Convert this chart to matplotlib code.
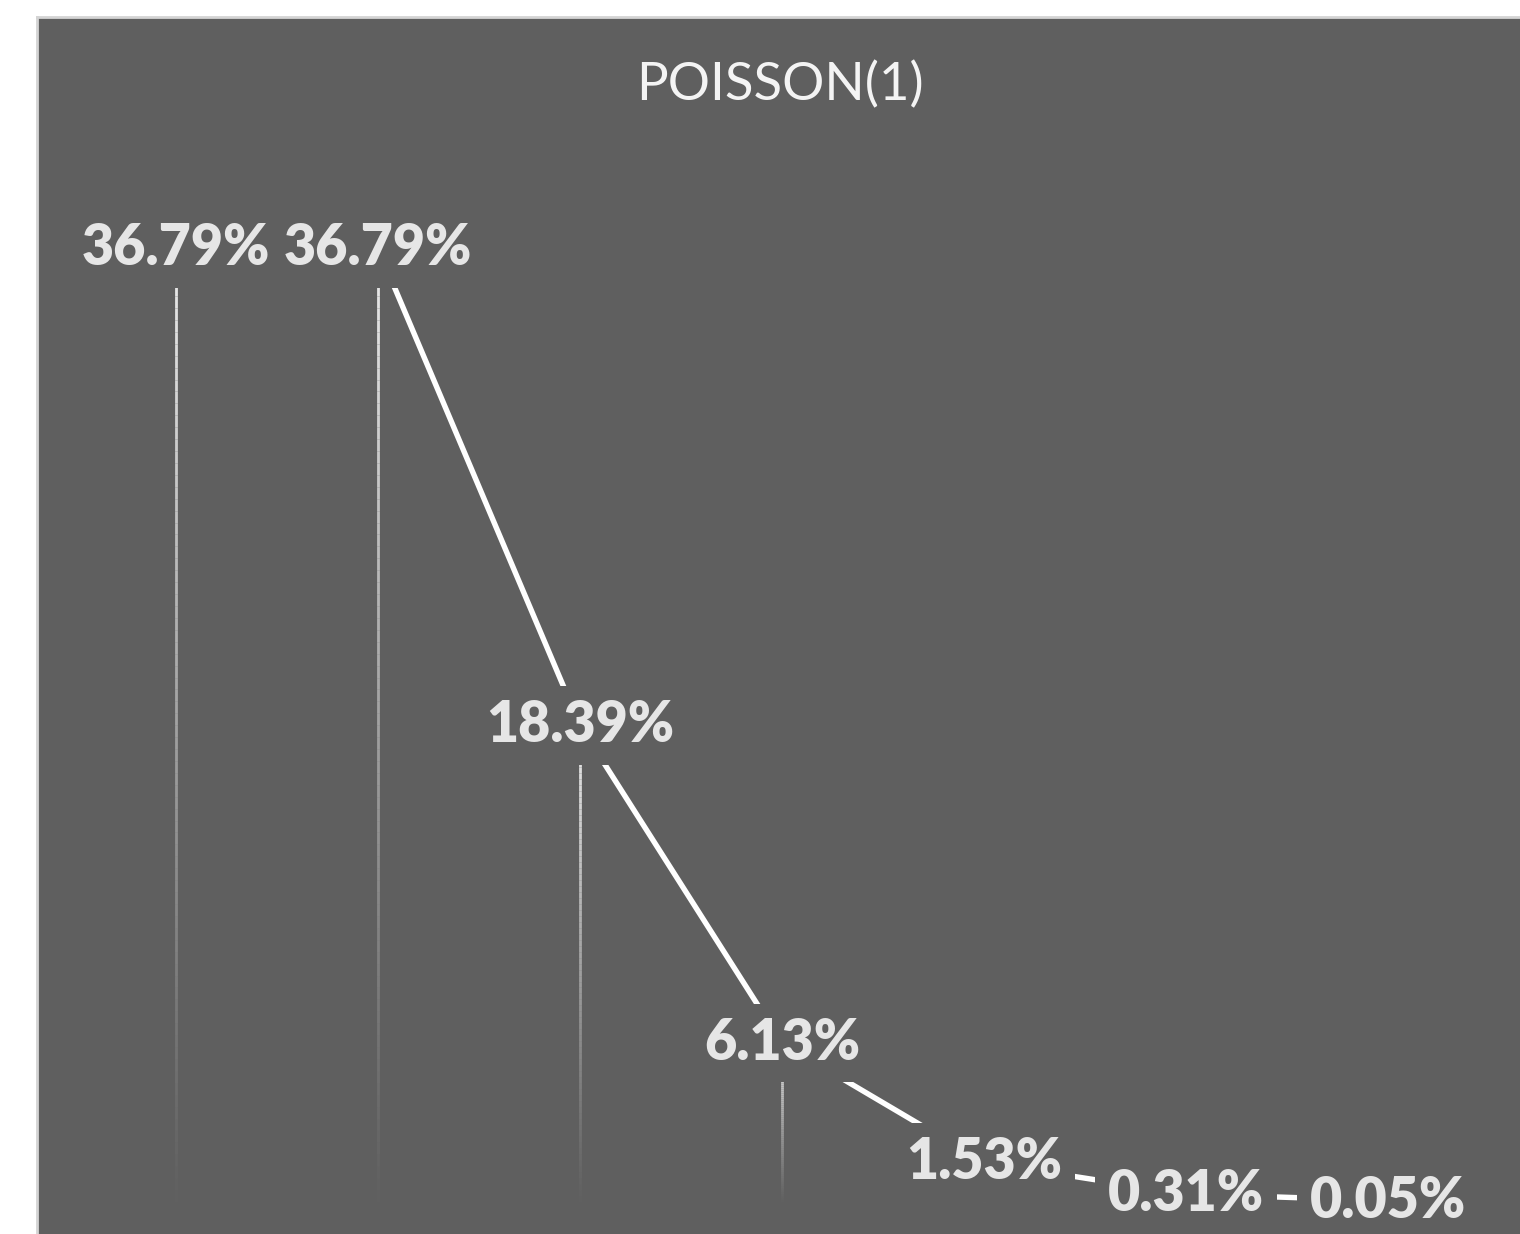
import matplotlib
matplotlib.use("Agg")
import matplotlib.pyplot as plt
from matplotlib.collections import LineCollection
import numpy as np

# Poisson(1) probabilities, k = 0..6
k_values = [0, 1, 2, 3, 4, 5, 6]
probabilities = [36.79, 36.79, 18.39, 6.13, 1.53, 0.31, 0.05]
title = "POISSON(1)"

panel_color = "#5f5f5f"
label_color = "#e6e6e6"

W, H = 1520, 1234
fig = plt.figure(figsize=(W / 100, H / 100), dpi=100, facecolor="white")

# chart area panel
panel = fig.add_axes([37 / W, 0, 1 - 37 / W, 1 - 17 / H])
panel.set_facecolor(panel_color)
panel.set_xticks([])
panel.set_yticks([])
for side in ["right", "bottom"]:
    panel.spines[side].set_visible(False)
for side in ["top", "left"]:
    panel.spines[side].set_color("#d4d4d4")
    panel.spines[side].set_linewidth(2)

# data axes over the whole figure
ax = fig.add_axes([0, 0, 1, 1])
ax.patch.set_alpha(0)
ax.axis("off")
x_step, x0 = 202.0, 176.0
y_scale, y0 = 25.92, 1202.0
ax.set_xlim(-x0 / x_step, (W - x0) / x_step)
ax.set_ylim((y0 - H) / y_scale, y0 / y_scale)

# drop lines fading towards the axis
segs, cols = [], []
n = 80
for x, v in zip(k_values, probabilities):
    ys = np.linspace(v, 0, n + 1)
    for i in range(n):
        segs.append([(x, ys[i]), (x, ys[i + 1])])
        a = 0.97 * (1 - i / n) ** 1.1
        cols.append((0.94, 0.94, 0.94, a))
ax.add_collection(LineCollection(segs, colors=cols, linewidths=2.0, zorder=2))

ax.plot(k_values, probabilities, color="white", linewidth=3.9,
        solid_capstyle="butt", zorder=2)

for x, v in zip(k_values, probabilities):
    ax.text(x, v, f"{v:.2f}%", ha="center", va="center",
            fontsize=40, fontweight="heavy", family="Lato", color=label_color,
            zorder=4,
            bbox=dict(boxstyle="square,pad=0.24", facecolor=panel_color,
                      edgecolor="none"))

fig.text(780 / W, 1 - 85 / H, title, ha="center", va="center",
         fontsize=38, family="Lato", color="#f4f4f4")

fig.savefig("out.png", dpi=100, facecolor="white")
